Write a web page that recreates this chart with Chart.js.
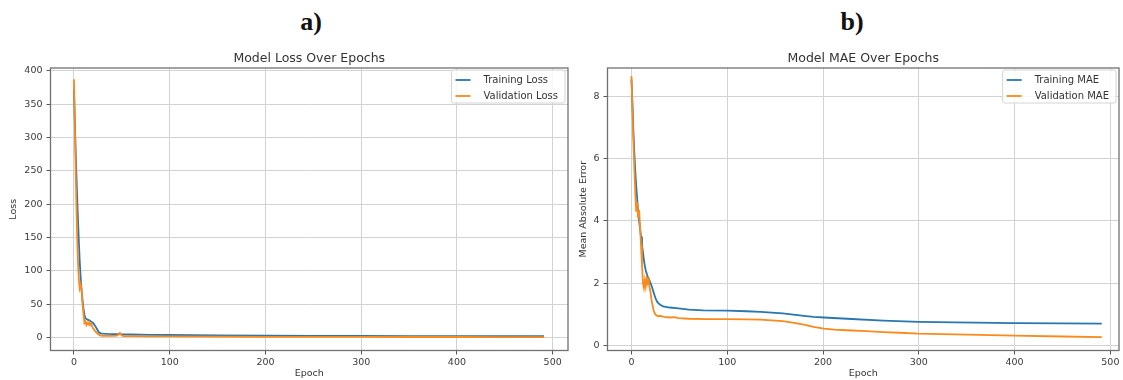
<!DOCTYPE html>
<html>
<head>
<meta charset="utf-8">
<script src="https://cdn.jsdelivr.net/npm/chart.js@4.4.1/dist/chart.umd.min.js"></script>
<style>
  body { margin: 0; background: #fff; }
  #wrap { position: relative; width: 1123px; height: 380px; overflow: hidden; background: #fff; }
  .panel-label {
    position: absolute; top: 7px; line-height: 30px;
    font: bold 26px "Liberation Serif", "Times New Roman", serif; color: #111;
    transform: translateX(-50%);
  }
  canvas { position: absolute; top: 0; }
</style>
</head>
<body>
<div id="wrap">
  <div class="panel-label" style="left:311px">a)</div>
  <div class="panel-label" style="left:852px">b)</div>
  <canvas id="lossChart" width="580" height="380" style="left:0px"></canvas>
  <canvas id="maeChart" width="553" height="380" style="left:570px"></canvas>
</div>
<script>
// --- data ---
const epochTicks = [0, 100, 200, 300, 400, 500];
const lossTicks = [0, 50, 100, 150, 200, 250, 300, 350, 400];
const maeTicks = [0, 2, 4, 6, 8];

const trainLossEpochs = [0, 1, 2, 3, 4, 5, 6, 7, 8, 9, 10, 11, 12, 14, 16, 18, 20, 22, 24, 26, 28, 30, 35, 40, 45, 50, 60, 80, 100, 150, 200, 250, 300, 350, 400, 450, 491];
const trainLoss = [372, 320, 270, 225, 185, 148, 115, 90, 70, 55, 43, 34, 29, 27, 26, 24, 22, 18, 13, 8, 6.5, 6, 5.6, 5.4, 5.2, 5.0, 4.7, 4.3, 4.0, 3.5, 3.1, 2.8, 2.6, 2.4, 2.3, 2.2, 2.1];

const valLossEpochs = [0, 1, 2, 3, 4, 5, 6, 7, 8, 9, 10, 11, 12, 13, 14, 15, 16, 17, 18, 19, 20, 21, 22, 24, 26, 28, 30, 35, 40, 45, 47, 48, 49, 50, 52, 60, 80, 100, 150, 200, 250, 300, 350, 400, 450, 491];
const valLoss = [387, 310, 235, 170, 120, 88, 74, 80, 72, 50, 35, 22, 24, 19, 22, 20, 23, 19, 21, 17, 14, 12, 10, 7, 4.5, 3.2, 2.8, 2.6, 2.7, 3.0, 5.5, 7, 5, 3.2, 2.4, 2.2, 2.0, 1.8, 1.5, 1.3, 1.2, 1.1, 1.0, 1.0, 0.9, 0.9];

const trainMaeEpochs = [0, 1, 2, 3, 4, 5, 6, 7, 8, 9, 10, 11, 12, 13, 14, 15, 16, 17, 18, 19, 20, 21, 22, 23, 24, 25, 26, 27, 28, 30, 33, 40, 49, 60, 75, 100, 120, 135, 150, 158, 169, 180, 190, 201, 225, 263, 300, 338, 400, 450, 491];
const trainMae = [8.55, 7.8, 6.9, 6.2, 5.6, 5.1, 4.7, 4.3, 4.0, 3.75, 3.5, 3.25, 3.0, 2.75, 2.55, 2.4, 2.3, 2.2, 2.15, 2.08, 2.0, 1.92, 1.82, 1.72, 1.62, 1.53, 1.46, 1.4, 1.36, 1.31, 1.26, 1.22, 1.19, 1.15, 1.13, 1.12, 1.1, 1.08, 1.05, 1.03, 0.99, 0.95, 0.92, 0.9, 0.86, 0.8, 0.76, 0.74, 0.72, 0.71, 0.70];

const valMaeEpochs = [0, 1, 2, 3, 4, 5, 6, 7, 8, 9, 10, 11, 12, 13, 14, 15, 16, 17, 18, 19, 20, 21, 22, 23, 24, 25, 26, 28, 30, 34, 40, 45, 49, 60, 80, 100, 120, 135, 150, 158, 170, 180, 190, 201, 212, 225, 245, 263, 280, 300, 350, 400, 450, 491];
const valMae = [8.65, 7.6, 6.6, 5.7, 4.9, 4.3, 4.6, 4.1, 4.35, 3.8, 3.2, 2.6, 2.0, 1.85, 2.1, 1.9, 2.15, 2.0, 2.1, 1.85, 1.7, 1.45, 1.3, 1.15, 1.05, 1.0, 0.97, 0.94, 0.95, 0.92, 0.9, 0.91, 0.88, 0.86, 0.85, 0.85, 0.84, 0.83, 0.8, 0.78, 0.73, 0.67, 0.6, 0.54, 0.51, 0.49, 0.46, 0.43, 0.41, 0.38, 0.35, 0.32, 0.29, 0.27];

const BLUE = '#2a76b0';
const ORANGE = '#fb8a1c';
const FONT = '"DejaVu Sans", sans-serif';

// box round the plot area, drawn over the lines like matplotlib spines
const frameBox = {
    id: 'frameBox',
    afterDatasetsDraw(chart) {
        const {ctx, chartArea: a} = chart;
        ctx.save();
        ctx.strokeStyle = '#707070';
        ctx.lineWidth = 1.3;
        ctx.strokeRect(a.left, a.top, a.right - a.left, a.bottom - a.top);
        ctx.restore();
    }
};

// legend inside the upper right corner
const cornerLegend = {
    id: 'cornerLegend',
    afterDraw(chart) {
        const {ctx, chartArea: a} = chart;
        const sets = chart.data.datasets;
        ctx.save();
        ctx.font = '10px ' + FONT;
        const textW = Math.max(...sets.map(d => ctx.measureText(d.label).width));
        const w = 4 + 15 + 13 + textW + 7;
        const h = 33;
        const x = a.right - 3 - w;
        const y = a.top + 2;
        ctx.fillStyle = 'rgba(255,255,255,0.85)';
        ctx.strokeStyle = '#d4d4d4';
        ctx.lineWidth = 1;
        ctx.beginPath();
        ctx.roundRect(x, y, w, h, 2);
        ctx.fill();
        ctx.stroke();
        sets.forEach((d, i) => {
            const ry = y + 10 + i * 16;
            ctx.strokeStyle = d.borderColor;
            ctx.lineWidth = 1.8;
            ctx.beginPath();
            ctx.moveTo(x + 4, ry);
            ctx.lineTo(x + 19, ry);
            ctx.stroke();
            ctx.fillStyle = '#333';
            ctx.textBaseline = 'middle';
            ctx.fillText(d.label, x + 32, ry);
        });
        ctx.restore();
    }
};

function buildChart(id, cfg) {
    const grid = {
        color: '#d2d2d2',
        lineWidth: 1,
        drawTicks: true,
        tickLength: 4,
        tickColor: '#555',
        tickWidth: 1
    };
    const tickFont = {family: FONT, size: 9.5};
    return new Chart(document.getElementById(id), {
        type: 'line',
        data: {
            datasets: cfg.series.map(s => ({
                label: s.label,
                data: s.epochs.map((e, i) => ({x: e, y: s.values[i]})),
                borderColor: s.color,
                backgroundColor: s.color,
                borderWidth: 1.8,
                pointRadius: 0,
                tension: 0,
                order: s.order
            }))
        },
        options: {
            responsive: false,
            animation: false,
            layout: {padding: {left: 0, right: cfg.padRight, top: 0, bottom: 0}},
            plugins: {
                legend: {display: false},
                tooltip: {enabled: false},
                title: {
                    display: true,
                    fullSize: false,
                    text: cfg.title,
                    color: '#333',
                    font: {family: FONT, size: 12.5, weight: 'normal'},
                    padding: {top: 51.5, bottom: 1.5}
                }
            },
            scales: {
                x: {
                    type: 'linear',
                    min: cfg.xMin,
                    max: cfg.xMax,
                    afterBuildTicks: ax => { ax.ticks = epochTicks.map(v => ({value: v})); },
                    afterFit: ax => { ax.height = 29.5; },
                    grid: grid,
                    border: {display: false},
                    ticks: {color: '#3a3a3a', font: tickFont, padding: 2, maxRotation: 0},
                    title: {
                        display: true, text: 'Epoch', color: '#333',
                        font: {family: FONT, size: 9.5}, padding: {top: 0, bottom: 0.3}
                    }
                },
                y: {
                    type: 'linear',
                    min: cfg.yMin,
                    max: cfg.yMax,
                    afterBuildTicks: ax => { ax.ticks = cfg.yTicks.map(v => ({value: v})); },
                    afterFit: ax => { ax.width = cfg.yWidth; },
                    grid: grid,
                    border: {display: false},
                    ticks: {color: '#3a3a3a', font: tickFont, padding: 4},
                    title: {
                        display: true, text: cfg.yLabel, color: '#333',
                        font: {family: FONT, size: 9.5}, padding: {top: 7.9, bottom: 0}
                    }
                }
            }
        },
        plugins: [frameBox, cornerLegend]
    });
}

buildChart('lossChart', {
    title: 'Model Loss Over Epochs',
    yLabel: 'Loss',
    xMin: -24.5, xMax: 516,
    yMin: -19.25, yMax: 404,
    yTicks: lossTicks,
    yWidth: 50.5,
    padRight: 12,
    series: [
        {label: 'Training Loss', epochs: trainLossEpochs, values: trainLoss, color: BLUE, order: 1},
        {label: 'Validation Loss', epochs: valLossEpochs, values: valLoss, color: ORANGE, order: 0}
    ]
});

buildChart('maeChart', {
    title: 'Model MAE Over Epochs',
    yLabel: 'Mean Absolute Error',
    xMin: -25, xMax: 509,
    yMin: -0.16, yMax: 8.91,
    yTicks: maeTicks,
    yWidth: 37.5,
    padRight: 4,
    series: [
        {label: 'Training MAE', epochs: trainMaeEpochs, values: trainMae, color: BLUE, order: 1},
        {label: 'Validation MAE', epochs: valMaeEpochs, values: valMae, color: ORANGE, order: 0}
    ]
});
</script>
</body>
</html>
